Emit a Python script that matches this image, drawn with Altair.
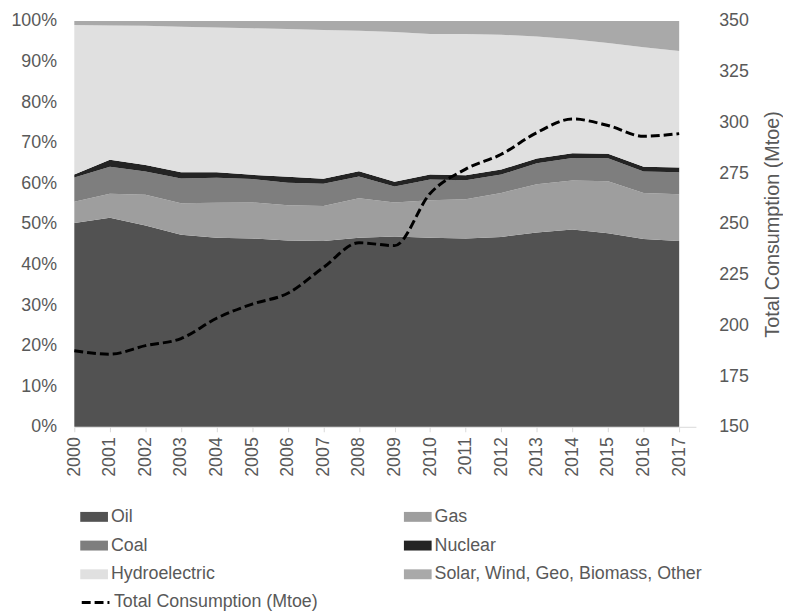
import altair as alt
import pandas as pd

years = list(range(2000, 2018))

# shares of primary energy consumption (%)
oil = [50.2, 51.5, 49.6, 47.3, 46.6, 46.4, 45.9, 45.8, 46.6, 46.9, 46.6, 46.4, 46.8, 47.9, 48.6, 47.7, 46.3, 45.8]
gas = [5.2, 5.9, 7.6, 7.8, 8.6, 8.9, 8.7, 8.6, 9.7, 8.4, 9.2, 9.7, 10.8, 11.9, 12.1, 12.8, 11.3, 11.5]
coal = [6.0, 6.7, 5.7, 6.1, 6.2, 5.75, 5.55, 5.5, 5.4, 3.9, 5.15, 4.65, 4.55, 5.15, 5.55, 5.7, 5.3, 5.4]
nuclear = [0.75, 1.7, 1.6, 1.5, 1.3, 1.05, 1.45, 1.2, 1.3, 1.2, 1.25, 1.25, 1.25, 1.15, 1.15, 1.1, 1.2, 1.2]
hydro = [36.8, 33.1, 34.3, 35.9, 35.7, 36.1, 36.4, 36.7, 34.6, 36.9, 34.6, 34.8, 33.2, 30.1, 28.1, 27.3, 29.4, 28.7]
other = [1.0, 1.1, 1.2, 1.4, 1.6, 1.8, 2.0, 2.2, 2.4, 2.7, 3.2, 3.2, 3.4, 3.8, 4.5, 5.4, 6.5, 7.4]

# total consumption (Mtoe)
total = [187.5, 185.8, 190.0, 193.5, 203.5, 210.5, 215.8, 228.5, 240.7, 239.3,
         265.0, 277.0, 284.3, 295.0, 301.7, 298.5, 293.2, 294.5]

series_names = ["Oil", "Gas", "Coal", "Nuclear", "Hydroelectric",
                "Solar, Wind, Geo, Biomass, Other"]
series_values = [oil, gas, coal, nuclear, hydro, other]
series_colors = ["#525252", "#9e9e9e", "#7e7e7e", "#242424", "#e0e0e0", "#a9a9a9"]
line_label = "Total Consumption (Mtoe)"

rows = []
for k, (name, vals) in enumerate(zip(series_names, series_values)):
    for yr, v in zip(years, vals):
        rows.append({"year": yr, "source": name, "share": v, "ord": k})
df = pd.DataFrame(rows)
line_df = pd.DataFrame({"year": years, "total": total, "label": line_label})

FONT = "Liberation Sans"
GRAY = "#595959"

x_enc = alt.X(
    "year:Q",
    scale=alt.Scale(domain=[2000, 2017.47], nice=False, zero=False),
    axis=alt.Axis(values=years, format="d", labelAngle=270, labelFontSize=18,
                  labelColor=GRAY, tickSize=5, tickColor="#d9d9d9",
                  domainColor="#d9d9d9", labelPadding=5, grid=False, title=None,
                  labelOverlap=False, labelFlush=False, labelBound=False,
                  labelSeparation=0),
)

area = alt.Chart(df).transform_stack(
    stack="share", groupby=["year"], as_=["lo", "hi"], offset="normalize",
    sort=[alt.SortField("ord", order="ascending")],
).mark_area(opacity=1).encode(
    x=x_enc,
    y=alt.Y("lo:Q", scale=alt.Scale(domain=[0, 1], nice=False),
            axis=alt.Axis(values=[i / 10 for i in range(11)], format=".0%",
                          labelFontSize=18, labelColor=GRAY, ticks=False, tickSize=0,
                          domain=False, grid=False, labelPadding=18, title=None)),
    y2="hi:Q",
    color=alt.Color(
        "source:N",
        scale=alt.Scale(domain=series_names, range=series_colors),
        legend=alt.Legend(
            orient="none", legendX=6, legendY=487, columns=2, direction="horizontal",
            title=None,
            symbolType="M-1,-0.357H1V0.357H-1Z", symbolSize=784,
            symbolStrokeWidth=0, symbolOpacity=1,
            labelFontSize=18, labelColor=GRAY, labelFont=FONT, labelOffset=3,
            columnPadding=190, rowPadding=6, padding=0, labelLimit=400,
        ),
    ),
)

line = alt.Chart(line_df).mark_line(color="black", strokeWidth=3, interpolate="monotone").encode(
    x=x_enc,
    y=alt.Y("total:Q", scale=alt.Scale(domain=[150, 350], nice=False, zero=False),
            axis=alt.Axis(orient="right", values=list(range(150, 351, 25)),
                          labelFontSize=18, labelColor=GRAY, ticks=False, tickSize=0,
                          domain=False, grid=False, labelPadding=23,
                          title=line_label, titleFontSize=20, titleFontWeight="normal",
                          titleColor=GRAY, titleAngle=270, titleBaseline="top",
                          titlePadding=14, titleFont=FONT)),
    strokeDash=alt.StrokeDash(
        "label:N",
        scale=alt.Scale(domain=[line_label], range=[[9, 4]]),
        legend=alt.Legend(
            orient="none", legendX=6, legendY=572, title=None,
            symbolType="stroke", symbolSize=784, symbolStrokeWidth=3,
            symbolStrokeColor="black",
            labelFontSize=18, labelColor=GRAY, labelFont=FONT, labelOffset=3,
            padding=0, labelLimit=400,
        ),
    ),
)

chart = alt.layer(area, line).resolve_scale(y="independent").properties(
    width=628, height=410,
    autosize=alt.AutoSizeParams(type="none"),
    padding={"left": 67, "top": 10, "right": 88, "bottom": 186},
).configure(font=FONT).configure_view(strokeWidth=0)

chart.save("out.html", embed_options={"renderer": "svg", "actions": False})
